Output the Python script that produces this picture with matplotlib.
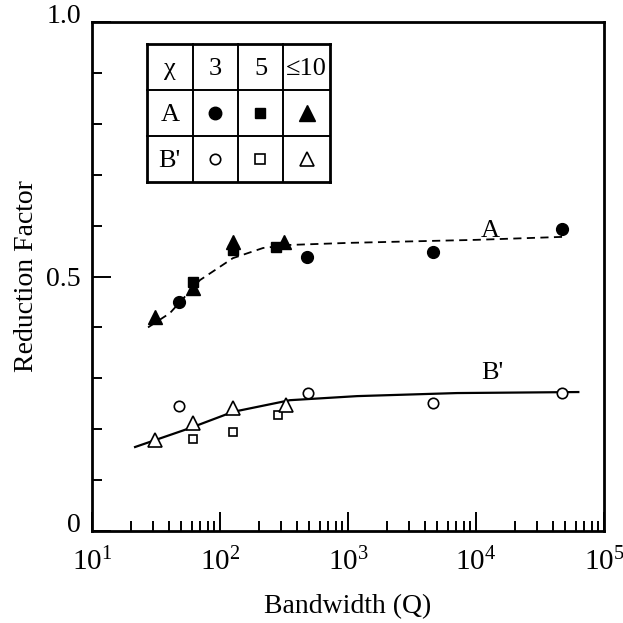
import numpy as np
import matplotlib
matplotlib.use('Agg')
import matplotlib.pyplot as plt
from matplotlib.ticker import FixedLocator, LogLocator, FuncFormatter, NullFormatter
import matplotlib.transforms as mtransforms

plt.rcParams['font.family'] = ['Liberation Serif', 'DejaVu Serif']
plt.rcParams['mathtext.fontset'] = 'custom'
plt.rcParams['mathtext.rm'] = 'Liberation Serif'
plt.rcParams['mathtext.default'] = 'regular'

##----- series A (filled markers), chi = 3, 5, <=10
A3_x = [48, 480, 4650, 47000]
A3_y = [0.45, 0.538, 0.548, 0.593]
A5_x = [62, 126, 275]
A5_y = [0.49, 0.552, 0.558]
A10_x = [31, 62, 126, 316]
A10_y = [0.42, 0.477, 0.568, 0.568]

##----- series B' (open markers)
B3_x = [48, 490, 4600, 47000]
B3_y = [0.246, 0.271, 0.251, 0.271]
B5_x = [62, 126, 283]
B5_y = [0.181, 0.195, 0.228]
B10_x = [31, 61, 126, 330]
B10_y = [0.179, 0.212, 0.242, 0.248]

##----- fitted curves
curveA_x = [27.4, 40.6, 69.8, 126, 217, 352, 1000, 2130, 10000, 49500]
curveA_y = [0.40, 0.428, 0.493, 0.536, 0.556, 0.562, 0.566, 0.568, 0.572, 0.578]
curveB_x = [21.7, 58, 126, 352, 1180, 7100, 63000]
curveB_y = [0.165, 0.202, 0.234, 0.257, 0.265, 0.271, 0.273]

fig = plt.figure(figsize=(6.23, 6.23), dpi=100)
ax = fig.add_axes([92/623., 1-531/623., 512/623., 509/623.])

ax.plot(curveA_x, curveA_y, 'k--', lw=1.3, dashes=(4.5, 3))
ax.plot(curveB_x, curveB_y, 'k-', lw=1.6)

ms_f = 8.5
ax.plot(A3_x, A3_y, 'ko', ms=ms_f, ls='none')
ax.plot(A10_x, A10_y, 'k^', ms=ms_f+1.5, ls='none')
ax.plot(A5_x, A5_y, 'ks', ms=ms_f-1, ls='none')

ax.plot(B3_x, B3_y, 'o', mfc='white', mec='k', mew=1.2, ms=7.5, ls='none')
ax.plot(B5_x, B5_y, 's', mfc='white', mec='k', mew=1.2, ms=6, ls='none')
ax.plot(B10_x, B10_y, '^', mfc='white', mec='k', mew=1.2, ms=9.5, ls='none')

ax.text(13000, 0.59, 'A', fontsize=19, ha='center', va='center')
ax.text(13500, 0.31, "B'", fontsize=19, ha='center', va='center')

ax.set_xscale('log')
ax.set_xlim(10, 1e5)
ax.set_ylim(0, 1.0)

ax.xaxis.set_major_locator(LogLocator(base=10, numticks=10))
ax.xaxis.set_minor_locator(LogLocator(base=10, subs=np.arange(2, 10), numticks=10))
ax.xaxis.set_major_formatter(FuncFormatter(lambda v, p: r'$10^{%d}$' % int(round(np.log10(v)))))
ax.xaxis.set_minor_formatter(NullFormatter())
ax.yaxis.set_major_locator(FixedLocator([0, 0.5, 1.0]))
ax.yaxis.set_minor_locator(FixedLocator(np.arange(0.1, 1.0, 0.1)))
ax.yaxis.set_major_formatter(FuncFormatter(lambda v, p: '0' if v == 0 else '%.1f' % v))

ax.tick_params(which='both', direction='in', top=False, right=False, width=1.4)
ax.tick_params(which='major', length=14)
ax.tick_params(which='minor', length=7)
ax.tick_params(axis='x', pad=12, labelsize=21)
ax.tick_params(axis='y', pad=8, labelsize=20)
for s in ax.spines.values():
    s.set_linewidth(2.0)

# nudge the "0" and "1.0" labels up a little, like the original
fig.canvas.draw()
for lab in ax.get_yticklabels():
    if lab.get_text() in ('0', '1.0'):
        lab.set_transform(lab.get_transform() + mtransforms.ScaledTranslation(0, 6/72., fig.dpi_scale_trans))

ax.set_xlabel('Bandwidth (Q)', fontsize=20, labelpad=13)
ax.set_ylabel('Reduction Factor', fontsize=20, labelpad=5)

##----- the little legend table
tx = [0.107, 0.197, 0.285, 0.373, 0.465]
ty = [0.957, 0.866, 0.776, 0.686]
for i, x in enumerate(tx):
    w = 2.0 if i in (0, len(tx)-1) else 1.4
    ax.plot([x, x], [ty[0], ty[-1]], 'k-', lw=w, transform=ax.transAxes)
for j, y in enumerate(ty):
    w = 2.0 if j in (0, len(ty)-1) else 1.4
    ax.plot([tx[0], tx[-1]], [y, y], 'k-', lw=w, transform=ax.transAxes)

header = [u'\u03c7', '3', '5', u'\u226410']
rows = ['A', "B'"]
cx = [(tx[i]+tx[i+1])/2. for i in range(4)]
cy = [(ty[j]+ty[j+1])/2. for j in range(3)]
for i, h in enumerate(header):
    ax.text(cx[i], cy[0]-0.004, h, fontsize=19, ha='center', va='center', transform=ax.transAxes)
for j, r in enumerate(rows):
    ax.text(cx[0], cy[j+1]-0.004, r, fontsize=19, ha='center', va='center', transform=ax.transAxes)
ax.plot(cx[1], cy[1], 'ko', ms=9, transform=ax.transAxes)
ax.plot(cx[2], cy[1], 'ks', ms=7, transform=ax.transAxes)
ax.plot(cx[3], cy[1], 'k^', ms=12, transform=ax.transAxes)
ax.plot(cx[1], cy[2], 'o', mfc='white', mec='k', mew=1.2, ms=7.5, transform=ax.transAxes)
ax.plot(cx[2], cy[2], 's', mfc='white', mec='k', mew=1.2, ms=6.5, transform=ax.transAxes)
ax.plot(cx[3], cy[2], '^', mfc='white', mec='k', mew=1.2, ms=10.5, transform=ax.transAxes)

fig.savefig('out.png', dpi=100)
